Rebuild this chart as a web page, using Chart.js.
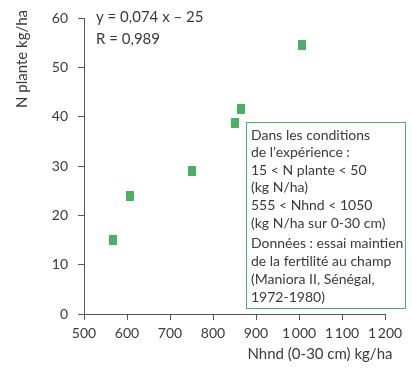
<!DOCTYPE html>
<html>
<head>
<meta charset="utf-8">
<script src="https://cdn.jsdelivr.net/npm/chart.js@4/dist/chart.umd.min.js"></script>
<style>
html,body{margin:0;padding:0;background:#fff;}
#wrap{width:412px;height:373px;position:relative;}
</style>
</head>
<body>
<div id="wrap"><canvas id="c" width="412" height="373"></canvas></div>
<script>
// Data
const nhnd = [567, 607, 752, 851, 866, 1006];       // Nhnd (0-30 cm) kg/ha
const nPlante = [15.1, 24.0, 29.0, 38.8, 41.6, 54.6]; // N plante kg/ha
const xTicks = [500, 600, 700, 800, 900, 1000, 1100, 1200];
const yTicks = [0, 10, 20, 30, 40, 50, 60];
const equationLines = ["y = 0,074 x \u2013 25", "R = 0,989"];
const boxLines1 = ["Dans les conditions", "de l\u2019exp\u00e9rience :", "15 < N plante < 50", "(kg N/ha)", "555 < Nhnd < 1050", "(kg N/ha sur 0-30 cm)"];
const boxLines2 = ["Donn\u00e9es : essai maintien", "de la fertilit\u00e9 au champ", "(Maniora II, S\u00e9n\u00e9gal,", "1972-1980)"];
const xTitle = "Nhnd (0-30 cm) kg/ha";
const yTitle = "N plante kg/ha";

const FONT = "Lato";
const TXT = "#3a3a3a";
const GREEN = "rgb(76,176,98)";

// rectangular marker
const mk = document.createElement('canvas');
mk.width = 8; mk.height = 10;
const mctx = mk.getContext('2d');
mctx.fillStyle = GREEN; mctx.fillRect(0, 0, 8, 10);

const points = nhnd.map((x, i) => ({x: x, y: nPlante[i]}));

function fmt(v){
  const s = String(v);
  return s.length > 3 ? s.slice(0, s.length-3) + "\u2009" + s.slice(-3) : s;
}

const annot = {
  id: 'annot',
  afterDraw(chart){
    const ctx = chart.ctx;
    ctx.save();
    ctx.fillStyle = TXT;
    ctx.textBaseline = 'middle';
    // equation
    ctx.font = "15px " + FONT;
    ctx.textAlign = 'left';
    ctx.fillText(equationLines[0], 96, 17);
    ctx.fillText(equationLines[1], 96, 39);
    // box
    ctx.fillStyle = '#fff';
    ctx.fillRect(246, 122, 160, 187);
    ctx.strokeStyle = GREEN;
    ctx.lineWidth = 1;
    ctx.strokeRect(246.5, 122.5, 159, 186);
    ctx.fillStyle = TXT;
    ctx.font = "14px " + FONT;
    let y = 135;
    boxLines1.forEach(l => { ctx.fillText(l, 251, y); y += 17.6; });
    y = 243;
    boxLines2.forEach(l => { ctx.fillText(l, 251, y); y += 18; });
    // axis titles
    ctx.font = "15px " + FONT;
    ctx.textAlign = 'center';
    ctx.fillText(xTitle, 320, 354);
    ctx.translate(22, 59);
    ctx.rotate(-Math.PI/2);
    ctx.fillText(yTitle, 0, 0);
    ctx.restore();
  }
};

new Chart(document.getElementById('c'), {
  type: 'scatter',
  data: {
    datasets: [{
      data: points,
      pointStyle: mk,
      pointRadius: 5,
      pointHoverRadius: 5
    }]
  },
  options: {
    responsive: false,
    animation: false,
    devicePixelRatio: 1,
    layout: {padding: {top: 12, right: 27, left: 0, bottom: 0}},
    plugins: {legend: {display: false}, tooltip: {enabled: false}},
    scales: {
      x: {
        type: 'linear', min: 500, max: 1200,
        afterFit(s){ s.height = 59; },
        afterBuildTicks(s){ s.ticks = xTicks.map(v => ({value: v})); },
        grid: {display: true, drawOnChartArea: false, drawTicks: true, tickLength: 6, color: '#555'},
        border: {display: true, color: '#555', width: 1},
        ticks: {color: TXT, font: {family: FONT, size: 14}, padding: 5, maxRotation: 0, autoSkip: false, callback: v => fmt(v)}
      },
      y: {
        type: 'linear', min: 0, max: 60,
        afterFit(s){ s.width = 84; },
        afterBuildTicks(s){ s.ticks = yTicks.map(v => ({value: v})); },
        grid: {display: true, drawOnChartArea: false, drawTicks: true, tickLength: 6, color: '#555'},
        border: {display: true, color: '#555', width: 1},
        ticks: {color: TXT, font: {family: FONT, size: 14}, padding: 10}
      }
    }
  },
  plugins: [annot]
});
</script>
</body>
</html>
